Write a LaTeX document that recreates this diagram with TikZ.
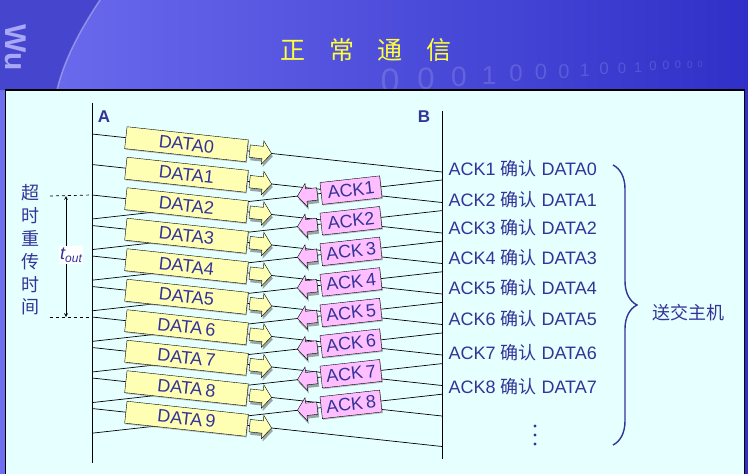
\documentclass[tikz,border=0pt]{standalone}
\usepackage{fontspec}
\setmainfont{Liberation Sans}
\newfontfamily\cjk{Noto Sans CJK SC}
\usetikzlibrary{shapes.arrows,shadows,decorations.pathreplacing}
\definecolor{textblue}{RGB}{51,51,153}
\definecolor{panel}{RGB}{230,255,255}
\definecolor{datayellow}{RGB}{255,255,180}
\definecolor{ackpink}{RGB}{255,190,255}
\definecolor{bannerlight}{RGB}{110,110,240}
\definecolor{bannerdark}{RGB}{48,48,200}
\definecolor{titleyellow}{RGB}{255,255,60}
\tikzset{lifeline/.style={black, line width=1pt},
  msg/.style={black, line width=0.7pt},
  txt/.style={text=textblue, font=\fontsize{18}{20}\selectfont},
  databox/.style={draw=black, fill=datayellow, sloped, minimum width=122pt, minimum height=22pt, inner sep=0pt, txt,
    drop shadow={shadow xshift=0.8pt, shadow yshift=-1.2pt, fill=black!45}},
  ackbox/.style={databox, fill=ackpink, minimum width=60pt},
  dataarrow/.style={single arrow, draw=black, fill=datayellow, sloped, inner sep=6pt, minimum height=22pt,
    single arrow head extend=5.5pt, single arrow tip angle=105,
    drop shadow={shadow xshift=1.2pt, shadow yshift=-3pt, fill=black!70}},
  ackarrow/.style={dataarrow, fill=ackpink, minimum height=20pt, shape border rotate=180}}

\begin{document}
\begin{tikzpicture}[x=1pt,y=-1pt]
  \useasboundingbox (0,0) rectangle (748,474);
  % banner
  \shade[left color=bannerlight, right color=bannerdark] (0,0) rectangle (748,474);
  \fill[bannerdark!90!white] (0,0) -- (100,0) .. controls (80,30) and (64,60) .. (57,90) -- (0,90) -- cycle;
  \draw[white, opacity=.35, line width=1.5pt] (100,0) .. controls (80,30) and (64,60) .. (57,90);
  \node[rotate=-90, text=bannerlight!60!white, font=\bfseries\fontsize{30}{32}\selectfont] (wu) at (16,48) {Wu};
  \foreach \x/\s/\d in {390/34/0,426/31/0,459/28/0,489/26/1,516/24/0,541/22/0,564/20/0,585/18/1,604/17/0,622/15/0,
      638/14/1,653/13/0,666/12/0,678/11/0,690/10/0,700/9/0}
    \node[anchor=base, inner sep=0pt, text=white, opacity=.15, font=\fontsize{\s}{\s}\selectfont] (bit\x) at (\x,92-0.08*\x+31.2) {\d};
  \node[inner sep=0pt, text=titleyellow, font=\cjk\fontsize{25}{27}\selectfont] (title) at (366,50) {正\hspace{0.95em}常\hspace{0.95em}通\hspace{0.95em}信};
  % panel
  \draw[line width=1.2pt, fill=panel] (5.5,90) rectangle (744.5,480);

  \coordinate (Atop) at (92,103);
  \coordinate (Abot) at (92,463);
  \coordinate (Btop) at (442,111);
  \coordinate (Bbot) at (442,459);
  \draw[lifeline] (Atop) -- (Abot);
  \draw[lifeline] (Btop) -- (Bbot);
  \node[txt, font=\bfseries\fontsize{17}{20}\selectfont] (labA) at (104,117) {A};
  \node[txt, font=\bfseries\fontsize{17}{20}\selectfont] (labB) at (424,117) {B};

  \foreach \i in {0,...,9} {
    \coordinate (sA\i) at (92,134+30.5*\i);
    \coordinate (sB\i) at (442,172+30.5*\i);
  }
  \foreach \k in {1,...,8} {
    \coordinate (rB\k) at (442,149.4+30.6*\k);
    \coordinate (rA\k) at (92,188.4+30.6*\k);
  }
  \foreach \i in {0,...,9}
    \draw[msg] (sA\i) -- (sB\i);
  \foreach \k in {1,...,8}
    \draw[msg] (rA\k) -- (rB\k);

  \foreach \i/\t in {0/DATA0,1/DATA1,2/DATA2,3/DATA3,4/DATA4,5/DATA5,6/DATA\thinspace6,7/DATA\thinspace7,8/DATA\thinspace8,9/DATA\thinspace9}
    \path (sA\i) -- node[databox, pos=.27] (data\i) {\t} node[dataarrow, pos=.475] (darr\i) {} (sB\i);
  \foreach \k/\t in {1/ACK1,2/ACK2,3/ACK\thinspace3,4/ACK\thinspace4,5/ACK\thinspace5,6/ACK\thinspace6,7/ACK\thinspace7,8/ACK\thinspace8}
    \path (rA\k) -- node[ackarrow, pos=.622] (karr\k) {} node[ackbox, pos=.74] (ack\k) {\t} (rB\k);

  % confirmations at B
  \foreach \k/\y in {1/169,2/200,3/228,4/258,5/288,6/319,7/353,8/387} {
    \pgfmathtruncatemacro\j{\k-1}
    \node[txt, anchor=west] (conf\k) at (445,\y) {ACK\k\ {\cjk 确认} DATA\j};
  }
  \foreach \y in {426,435,444}
    \fill[textblue] (535,\y) circle (1.7);
  \coordinate (br1) at (613,165);
  \coordinate (br2) at (613,445);
  \draw[textblue, line width=1.4pt, decorate, decoration={brace, amplitude=24pt}] (br1) -- (br2);
  \node[txt, font=\cjk\fontsize{18}{20}\selectfont] (host) at (688,313) {送交主机};

  % timeout
  \coordinate (tt1) at (50,196);
  \coordinate (tt2) at (50,317);
  \draw[dashed, line width=0.7pt] (tt1) -- (sA2);
  \draw[dashed, line width=0.7pt] (tt2) -- (sA6);
  \coordinate (to1) at (66,196);
  \coordinate (to2) at (66,317);
  \draw[<->, >=stealth, line width=0.7pt] (to1) -- (to2);
  \node[fill=white, inner sep=1.5pt, text=textblue, font=\fontsize{18}{20}\selectfont\itshape] (tout) at (71,255) {t\raisebox{-0.35ex}{\fontsize{12}{14}\selectfont out}};
  \node[txt, font=\cjk\fontsize{18}{22.8}\selectfont, align=center] (timeout) at (30,250) {超\\时\\重\\传\\时\\间};
\end{tikzpicture}
\end{document}
